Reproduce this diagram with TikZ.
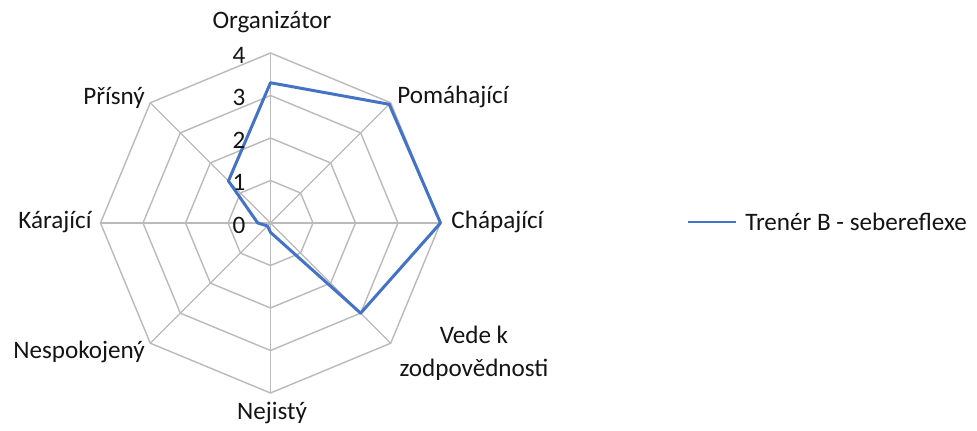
\documentclass[tikz,border=0pt]{standalone}
\usepackage{fontspec}
\setmainfont{Carlito}
\usetikzlibrary{positioning}
\definecolor{trenerblue}{RGB}{68,114,196}

\begin{document}
\begin{tikzpicture}[x=0.02cm, y=0.02cm,
	gridline/.style={line width=0.8pt, color=black!27},
	dataline/.style={line width=1.7pt, color=trenerblue, line join=round},
	axislabel/.style={font=\fontsize{14.3}{19}\selectfont, text=black!92, inner sep=0pt, align=center},
	ticklabel/.style={font=\fontsize{14.3}{16}\selectfont, text=black!92, inner sep=0pt}]
			%%%%% START %%%%%
			
			\useasboundingbox (0, 0) rectangle (977, 430);
			
			\begin{scope}[shift={(270.5, 207)}]
			\coordinate (o) at (0, 0);
			
			% rings and spokes
			\foreach \r in {1,...,4}
				\draw[gridline] (90:\r*42.5) -- (45:\r*42.5) -- (0:\r*42.5) -- (-45:\r*42.5) -- (-90:\r*42.5) -- (-135:\r*42.5) -- (180:\r*42.5) -- (135:\r*42.5) -- cycle;
			\foreach \a in {90,45,...,-225}
				\draw[gridline] (o) -- (\a:170);
			
			% values
			\draw[dataline] (90:3.3*42.5) -- (45:3.95*42.5) -- (0:4*42.5) -- (-45:3*42.5) -- (-90:0.22*42.5) -- (-135:0.1*42.5) -- (180:0.3*42.5) -- (135:1.4*42.5) -- cycle;
			
			% scale
			\foreach \k in {0,...,4}
				\node[ticklabel] (t\k) at (-31.5, \k*42.5 - 2) {\k};
			
			% categories
			\node[axislabel] (organizator) at (1.5, 201) {Organizátor};
			\node[axislabel] (pomahajici) at (182.5, 126) {Pomáhající};
			\node[axislabel] (chapajici) at (227, 1) {Chápající};
			\node[axislabel] (vede) at (203.5, -130) {Vede k\\zodpovědnosti};
			\node[axislabel] (nejisty) at (1.5, -190) {Nejistý};
			\node[axislabel] (nespokojeny) at (-191.5, -129) {Nespokojený};
			\node[axislabel] (karajici) at (-215.5, 1) {Kárající};
			\node[axislabel] (prisny) at (-156.5, 125) {Přísný};
			\end{scope}
			
			% legend
			\coordinate (legstart) at (688, 208);
			\node[axislabel, anchor=west] (legtext) at (745, 208) {Trenér B - sebereflexe};
			\draw[dataline] (legstart) -- ([xshift=-5]legtext.west);
			
			%%%%% END %%%%%
		\end{tikzpicture}
\end{document}
